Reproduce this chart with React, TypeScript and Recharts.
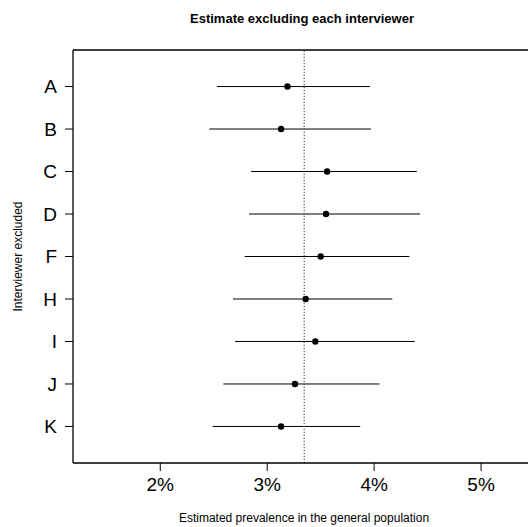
import React from 'react';
import { ScatterChart, Scatter, XAxis, YAxis, ReferenceLine } from 'recharts';

const interviewers = ['A', 'B', 'C', 'D', 'F', 'H', 'I', 'J', 'K'];
const estimates = [3.19, 3.13, 3.56, 3.55, 3.50, 3.36, 3.45, 3.26, 3.13];
const lowerBounds = [2.53, 2.46, 2.85, 2.83, 2.79, 2.68, 2.70, 2.59, 2.49];
const upperBounds = [3.96, 3.97, 4.40, 4.43, 4.33, 4.17, 4.38, 4.05, 3.87];
const overallEstimate = 3.346;
const xTicks = [2, 3, 4, 5];
const yTicks = [1, 2, 3, 4, 5, 6, 7, 8, 9];

const data = interviewers.map((name, i) => ({
  name,
  pos: i + 1,
  est: estimates[i],
  lo: lowerBounds[i],
  hi: upperBounds[i],
}));

const FONT = '"Liberation Sans", Arial, sans-serif';

const Dot = (props: any) => {
  const { cx, cy } = props;
  return <circle cx={cx} cy={cy} r={3.2} fill="#000" />;
};

export default function App() {
  return (
    <div style={{ position: 'absolute', left: 0, top: 0, width: 528, height: 527, overflow: 'hidden', background: '#fff' }}>
      <ScatterChart
        width={531}
        height={527}
        margin={{ top: 50, right: 0, bottom: 0, left: 0 }}
        style={{ fontFamily: FONT }}
      >
        <XAxis
          type="number"
          dataKey="est"
          domain={[1.184, 5.467]}
          ticks={xTicks}
          tickFormatter={(v: number) => `${v}%`}
          allowDataOverflow
          height={64}
          tickSize={8}
          tickMargin={7}
          stroke="#000"
          tick={{ fill: '#000', fontSize: 19, fontFamily: FONT }}
          axisLine={{ stroke: '#000', strokeWidth: 1.3 }}
          tickLine={{ stroke: '#000' }}
        />
        <YAxis
          type="number"
          dataKey="pos"
          domain={[0.14, 9.86]}
          reversed
          ticks={yTicks}
          tickFormatter={(v: number) => interviewers[v - 1] ?? ''}
          allowDataOverflow
          width={73}
          tickSize={8}
          tickMargin={8}
          stroke="#000"
          tick={{ fill: '#000', fontSize: 19, fontFamily: FONT }}
          axisLine={{ stroke: '#000', strokeWidth: 1.3 }}
          tickLine={{ stroke: '#000' }}
        />
        <ReferenceLine y={0.14} stroke="#000" strokeWidth={1.3} ifOverflow="visible" />
        {data.map((d) => (
          <ReferenceLine
            key={d.name}
            segment={[{ x: d.lo, y: d.pos }, { x: d.hi, y: d.pos }]}
            stroke="#000"
            strokeWidth={1}
            ifOverflow="visible"
          />
        ))}
        <ReferenceLine x={overallEstimate} stroke="#555" strokeWidth={1.2} strokeDasharray="1.2 1.8" />
        <Scatter data={data} shape={<Dot />} isAnimationActive={false} />
      </ScatterChart>
      <svg width={528} height={527} style={{ position: 'absolute', left: 0, top: 0, pointerEvents: 'none' }}>
        <text x={302} y={18} textAnchor="middle" dominantBaseline="central" fontFamily={FONT} fontWeight="bold" fontSize={13} fill="#000">
          Estimate excluding each interviewer
        </text>
        <text x={304} y={518} textAnchor="middle" dominantBaseline="central" fontFamily={FONT} fontSize={12} fill="#000">
          Estimated prevalence in the general population
        </text>
        <text
          x={18}
          y={256.5}
          textAnchor="middle"
          dominantBaseline="central"
          fontFamily={FONT}
          fontSize={12}
          fill="#000"
          transform="rotate(-90 18 256.5)"
        >
          Interviewer excluded
        </text>
      </svg>
    </div>
  );
}
